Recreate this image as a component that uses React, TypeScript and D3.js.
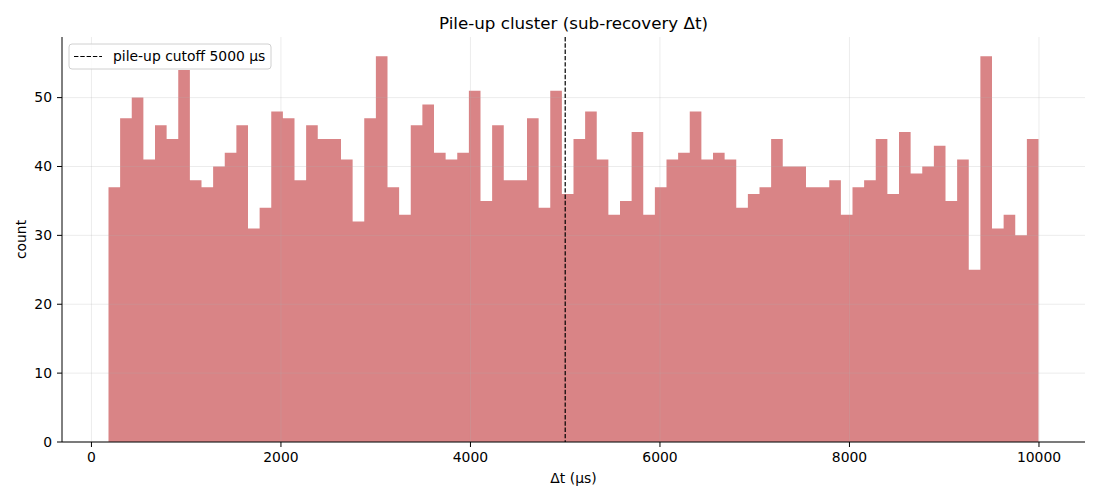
import * as d3 from "d3"

// histogram counts per bin (80 equal bins)
const COUNTS = [
  37, 47, 50, 41, 46, 44, 54, 38, 37, 40,
  42, 46, 31, 34, 48, 47, 38, 46, 44, 44,
  41, 32, 47, 56, 37, 33, 46, 49, 42, 41,
  42, 51, 35, 46, 38, 38, 47, 34, 51, 36,
  44, 48, 41, 33, 35, 45, 33, 37, 41, 42,
  48, 41, 42, 41, 34, 36, 37, 44, 40, 40,
  37, 37, 38, 33, 37, 38, 44, 36, 45, 39,
  40, 43, 35, 41, 25, 56, 31, 33, 30, 44,
]
const BIN_RANGE = [180, 9995]
const CUTOFF = 5000
const X_TICKS = [0, 2000, 4000, 6000, 8000, 10000]
const Y_TICKS = [0, 10, 20, 30, 40, 50]

const TITLE = "Pile-up cluster (sub-recovery Δt)"
const X_LABEL = "Δt (μs)"
const Y_LABEL = "count"
const LEGEND_LABEL = "pile-up cutoff 5000 μs"

const WIDTH = 1100
const HEIGHT = 500
const MARGIN = { top: 37, right: 15, bottom: 58, left: 62 }
const FONT = "DejaVu Sans, sans-serif"
const SMALL = 13.9
const LARGE = 16.7

export default function App() {
  const innerW = WIDTH - MARGIN.left - MARGIN.right
  const innerH = HEIGHT - MARGIN.top - MARGIN.bottom

  const binWidth = (BIN_RANGE[1] - BIN_RANGE[0]) / COUNTS.length
  const bins = COUNTS.map((count, i) => ({
    x0: BIN_RANGE[0] + i * binWidth,
    x1: BIN_RANGE[0] + (i + 1) * binWidth,
    count,
  }))

  const span = BIN_RANGE[1] - BIN_RANGE[0]
  const x = d3
    .scaleLinear()
    .domain([BIN_RANGE[0] - span * 0.05, BIN_RANGE[1] + span * 0.05])
    .range([0, innerW])
  const yMax = (d3.max(COUNTS) ?? 0) * 1.05
  const y = d3.scaleLinear().domain([0, yMax]).range([innerH, 0])

  // one outline for all bars so there are no seams between them
  const barPath = d3.path()
  barPath.moveTo(x(bins[0].x0), y(0))
  bins.forEach((b) => {
    barPath.lineTo(x(b.x0), y(b.count))
    barPath.lineTo(x(b.x1), y(b.count))
  })
  barPath.lineTo(x(bins[bins.length - 1].x1), y(0))
  barPath.closePath()

  return (
    <div style={{ position: "fixed", left: 0, top: 0, background: "white" }}>
      <svg width={WIDTH} height={HEIGHT} fontFamily={FONT}>
        <rect width={WIDTH} height={HEIGHT} fill="white" />
        <text
          x={MARGIN.left + innerW / 2}
          y={29}
          textAnchor="middle"
          fontSize={LARGE}
          fill="black"
        >
          {TITLE}
        </text>
        <g transform={`translate(${MARGIN.left},${MARGIN.top})`}>
          <path d={barPath.toString()} fill="#d98486" />

          {/* grid over the bars, like matplotlib's default */}
          {X_TICKS.map((t) => (
            <line
              key={`gx${t}`}
              x1={x(t)}
              x2={x(t)}
              y1={0}
              y2={innerH}
              stroke="#b0b0b0"
              strokeOpacity={0.3}
              strokeWidth={0.8}
            />
          ))}
          {Y_TICKS.map((t) => (
            <line
              key={`gy${t}`}
              x1={0}
              x2={innerW}
              y1={y(t)}
              y2={y(t)}
              stroke="#b0b0b0"
              strokeOpacity={0.3}
              strokeWidth={0.8}
            />
          ))}

          <line
            x1={x(CUTOFF)}
            x2={x(CUTOFF)}
            y1={0}
            y2={innerH}
            stroke="black"
            strokeWidth={1.2}
            strokeDasharray="4.4,1.9"
          />

          {/* axes */}
          <line x1={0} x2={0} y1={0} y2={innerH} stroke="black" strokeWidth={1} />
          <line x1={0} x2={innerW} y1={innerH} y2={innerH} stroke="black" strokeWidth={1} />
          {X_TICKS.map((t) => (
            <g key={`tx${t}`} transform={`translate(${x(t)},${innerH})`}>
              <line y1={0} y2={5} stroke="black" strokeWidth={1} />
              <text y={20} textAnchor="middle" fontSize={SMALL} fill="black">
                {t}
              </text>
            </g>
          ))}
          {Y_TICKS.map((t) => (
            <g key={`ty${t}`} transform={`translate(0,${y(t)})`}>
              <line x1={0} x2={-5} stroke="black" strokeWidth={1} />
              <text x={-10} dy="0.35em" textAnchor="end" fontSize={SMALL} fill="black">
                {t}
              </text>
            </g>
          ))}

          <text
            x={innerW / 2}
            y={innerH + 41}
            textAnchor="middle"
            fontSize={SMALL}
            fill="black"
          >
            {X_LABEL}
          </text>
          <text
            transform={`translate(${-36},${innerH / 2}) rotate(-90)`}
            textAnchor="middle"
            fontSize={SMALL}
            fill="black"
          >
            {Y_LABEL}
          </text>

          {/* legend */}
          <g transform="translate(7,7)">
            <rect
              width={202}
              height={25}
              rx={3}
              fill="white"
              fillOpacity={0.8}
              stroke="#d0d0d0"
              strokeWidth={1}
            />
            <line
              x1={5}
              x2={33}
              y1={12.5}
              y2={12.5}
              stroke="black"
              strokeWidth={1.2}
              strokeDasharray="4.4,1.9"
            />
            <text x={44} y={12.5} dy="0.35em" fontSize={SMALL} fill="black">
              {LEGEND_LABEL}
            </text>
          </g>
        </g>
      </svg>
    </div>
  )
}
